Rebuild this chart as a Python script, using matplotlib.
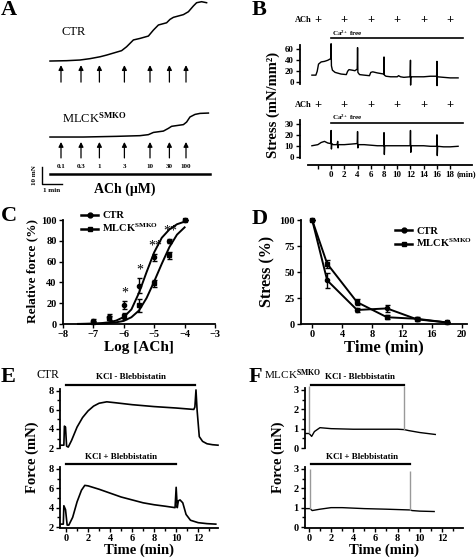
import numpy as np
import matplotlib
matplotlib.use('Agg')
import matplotlib.pyplot as plt
import matplotlib.transforms as mtransforms
from matplotlib.lines import Line2D

plt.rcParams['font.family'] = ['Liberation Serif', 'DejaVu Serif']
plt.rcParams['font.weight'] = 'bold'
plt.rcParams['mathtext.fontset'] = 'custom'
plt.rcParams['mathtext.rm'] = 'Liberation Serif'
plt.rcParams['mathtext.bf'] = 'Liberation Serif:bold'
plt.rcParams['mathtext.it'] = 'Liberation Serif:italic'

# ---------------- data ----------------
# Panel A: cumulative ACh traces (time in min, force in mN above baseline)
a_ctr_t = [0, 0.83, 1.5, 2.0, 2.5, 2.83, 3.58, 3.83, 4.17, 4.5, 4.92, 5.17, 5.42, 5.83,
           6.0, 6.17, 6.67, 6.92, 7.17, 7.33, 7.58, 7.83]
a_ctr_f = [0, 0.2, 0.6, 1.4, 2.5, 3.5, 6.1, 8.4, 12.4, 13.3, 14.7, 18.2, 21.2, 22.5,
           24.5, 25.7, 27.3, 29.0, 32.4, 34.3, 34.9, 34.3]
a_mlck_t = [0, 1.67, 3.33, 4.5, 4.92, 5.17, 5.67, 5.92, 6.08, 6.67, 6.83, 7.0, 7.25, 7.5, 7.92]
a_mlck_f = [0, 0, 0.4, 0.8, 1.4, 2.7, 3.5, 5.1, 6.3, 7.3, 8.8, 11.8, 13.3, 13.9, 14.1]
a_ach_times = [0.55, 1.55, 2.47, 3.72, 5.0, 5.97, 6.8]
a_ach_labels = ['0.1', '0.3', '1', '3', '10', '30', '100']

# Panel B: stress traces (mN/mm^2) vs time (min)
b_up_t = [-2.9, -2.3, -2.1, -1.9, -1.5, -1.0, -0.5, -0.05, 0.0, 0.05, 0.2, 0.6, 1.5, 2.3,
          2.5, 2.7, 3.2, 3.6, 3.95, 4.0, 4.05, 4.3, 5.0, 5.8, 6.0, 6.3, 7.0, 7.95, 8.0,
          8.05, 8.3, 9.0, 10.0, 10.2, 10.5, 11.0, 11.95, 12.0, 12.02, 12.05, 13.0, 14.0,
          15.0, 15.95, 16.0, 16.02, 16.05, 17.0, 18.0, 19.2]
b_up_v = [13, 13, 20, 33, 37, 38, 40, 43, 70, 30, 22, 18, 15, 14,
          20, 23, 22, 21, 24, 63, 18, 14, 13, 12, 18, 19, 17, 15, 46,
          13, 11, 10, 10, 12, 10, 9, 10, 40, -5, 10, 10, 10,
          11, 11, 38, -6, 10, 9, 8, 8]
b_lo_t = [-2.9, -2.0, -1.5, -1.0, -0.5, -0.05, 0.0, 0.05, 0.1, 0.3, 0.9, 1.0, 1.05, 1.1,
          1.5, 2.0, 3.0, 3.95, 4.0, 4.05, 4.1, 5.0, 6.0, 7.0, 7.95, 8.0, 8.05, 8.1, 9.0,
          10.0, 11.0, 11.95, 12.0, 12.05, 12.1, 13.0, 14.0, 15.0, 15.95, 16.0, 16.05,
          16.1, 17.0, 18.0, 19.2]
b_lo_v = [10, 11, 13, 14, 12.5, 12, 24, 7, 12, 11, 11, 14, 8, 11,
          11, 11, 11.5, 12, 23, 8, 11, 11, 10.5, 10, 10, 22, 2, 10, 10,
          10, 10, 10, 24, 4, 10, 10, 10, 9.5, 9.5, 20, 1,
          9.5, 9, 9, 9.5]
b_ach_times = [-2, 2, 6, 10, 14, 18]

# Panel C: concentration-response
c_logach = [-7, -6.5, -6, -5.5, -5, -4.5, -4]
c_ctr = [3, 7, 18.5, 37, 64, 80, 100]
c_ctr_err = [1.5, 3, 4, 7, 3, 2, 0]
c_mlck = [1.5, 6, 7.5, 18, 39, 66, 100]
c_mlck_err = [1, 2, 3, 6, 3, 3, 0]
c_sig = ['', '', '*', '*', '**', '**', '']
c_fit_x = [-7.5, -7.25, -7, -6.75, -6.5, -6.25, -6, -5.75, -5.5, -5.25, -5, -4.75, -4.5, -4.25, -4]
c_fit_ctr = [0.1, 0.2, 0.4, 0.8, 1.6, 3.3, 6.7, 14, 30, 50, 69, 83, 91, 96, 98.5]
c_fit_mlck = [0, 0.1, 0.2, 0.4, 0.8, 1.6, 3, 6.5, 13, 25, 41, 58, 74, 86, 93]

# Panel D: stress decay
d_time = [0, 2, 6, 10, 14, 18]
d_ctr = [100, 42, 13.5, 15, 4.5, 1.5]
d_ctr_err = [0, 7, 2, 3, 1, 0.5]
d_mlck = [100, 58, 21, 6.5, 5, 1.5]
d_mlck_err = [0, 4, 3, 2, 2, 0.5]

# Panel E: CTR force (mN)
e_up_t = [-0.5, -0.2, -0.15, -0.05, 0.05, 0.2, 0.5, 1.0, 1.5, 2.0, 2.5, 3.0, 3.7, 4.5, 6.0,
          8.0, 10.0, 11.6, 11.7, 11.8, 11.9, 12.1, 12.4, 12.8, 13.3, 13.8]
e_up_v = [2.3, 2.3, 4.3, 4.2, 2.2, 2.1, 2.8, 4.2, 5.2, 5.9, 6.4, 6.7, 6.85, 6.75, 6.55,
          6.35, 6.2, 6.05, 6.3, 8.1, 6.0, 3.2, 2.7, 2.45, 2.35, 2.3]
e_lo_t = [-0.5, -0.25, -0.2, -0.05, 0.1, 0.25, 0.6, 1.0, 1.4, 1.7, 2.0, 3.0, 4.0, 5.0, 6.0,
          7.0, 8.0, 9.0, 9.9, 10.0, 10.1, 10.2, 10.35, 10.6, 10.9, 11.3, 12.0, 12.8, 13.6]
e_lo_v = [2.3, 2.3, 4.2, 3.8, 2.2, 2.2, 3.0, 4.6, 5.8, 6.3, 6.25, 5.9, 5.5, 5.1, 4.8,
          4.5, 4.3, 4.15, 4.0, 6.1, 4.0, 4.7, 4.8, 4.5, 3.3, 2.7, 2.45, 2.35, 2.3]
e_up_bar = [0, 11.75]
e_lo_bar = [0, 10]

# Panel F: MLCK-SMKO force (mN)
f_up_t = [-0.35, 0.0, 0.1, 0.25, 0.5, 1.0, 2.0, 4.0, 6.0, 8.0, 8.6, 9.0, 10.0, 11.4]
f_up_v = [0.75, 0.75, 0.7, 0.6, 0.85, 1.05, 1.0, 0.97, 0.97, 0.97, 0.95, 0.9, 0.8, 0.7]
f_up_spike_t = [0.05, 8.6]
f_up_spike_base = [0.75, 0.95]
f_up_spike_top = [3.2, 3.2]
f_lo_t = [-0.35, 0.1, 0.3, 1.0, 2.0, 3.0, 5.0, 7.0, 9.15, 9.3, 10.0, 11.3]
f_lo_v = [0.95, 0.95, 0.85, 0.92, 1.0, 1.0, 0.95, 0.92, 0.88, 0.85, 0.82, 0.8]
f_lo_spike_t = [0.1, 9.15]
f_lo_spike_base = [0.95, 0.88]
f_lo_spike_top = [3.0, 2.9]
f_up_bar = [0.2, 8.6]
f_lo_bar = [0.2, 9.1]

# ---------------- layout helpers ----------------
W, H = 477, 559
fig = plt.figure(figsize=(W / 100, H / 100), dpi=100)


def fx(px):
    return px / W


def fy(py):
    return 1 - py / H


def axpx(x0, y0, x1, y1):
    return fig.add_axes([x0 / W, 1 - y1 / H, (x1 - x0) / W, (y1 - y0) / H])


def style(ax, left=True, bottom=True, lw=1.3, fs=7.5):
    for s in ['top', 'right']:
        ax.spines[s].set_visible(False)
    ax.spines['left'].set_visible(left)
    ax.spines['bottom'].set_visible(bottom)
    for s in ['left', 'bottom']:
        ax.spines[s].set_linewidth(lw)
    ax.tick_params(which='both', direction='out', width=1, labelsize=fs, pad=1.5)
    ax.tick_params(which='major', length=3)
    ax.tick_params(which='minor', length=2)
    if not bottom:
        ax.tick_params(axis='x', which='both', bottom=False, labelbottom=False)
    if not left:
        ax.tick_params(axis='y', which='both', left=False, labelleft=False)
    ax.patch.set_alpha(0)


def xfig(ax):
    return mtransforms.blended_transform_factory(ax.transData, fig.transFigure)


def panel_letter(x, y, s):
    fig.text(fx(x), fy(y), s, fontsize=16, fontweight='bold', ha='left', va='center')


# ---------------- Panel A ----------------
axA = axpx(0, 0, 240, 195)
axA.axis('off')
axA.set_xlim(-2.5, 9.5)
axA.set_ylim(-78.8, 35.9)
MLCK_OFFSET = -44.7
axA.plot(a_ctr_t, a_ctr_f, color='k', lw=1.1)
axA.plot(a_mlck_t, np.array(a_mlck_f) + MLCK_OFFSET, color='k', lw=1.1)
for t, lab in zip(a_ach_times, a_ach_labels):
    for y0, y1 in [(-12.4, -2.4), (-57.0, -47.6)]:
        axA.annotate('', xy=(t, y1), xytext=(t, y0),
                     arrowprops=dict(arrowstyle='-|>', lw=0.9, color='k', mutation_scale=7,
                                     shrinkA=0, shrinkB=0))
    axA.text(t, -61.8, lab, fontsize=5, fontweight='bold', ha='center', va='center')
axA.plot([0, 8.0], [-66.5, -66.5], color='k', lw=1.8)
axA.plot([-0.4, -0.4, 0.6], [-62.4, -72.4, -72.4], color='k', lw=1.0)
axA.text(-0.78, -67.4, '10 mN', fontsize=5, fontweight='bold', rotation=90, ha='center', va='center')
axA.text(0.1, -76.0, '1 min', fontsize=5, fontweight='bold', ha='center', va='center')
axA.text(3.75, -75.3, 'ACh (μM)', fontsize=10, fontweight='bold', ha='center', va='center')
axA.text(0.6, 17, 'CTR', fontsize=9, fontweight='normal', ha='left', va='center')
axA.text(0.6, -33.5, r'MLCK$^{\mathrm{SMKO}}$', fontsize=9, fontweight='normal', ha='left', va='center')
panel_letter(1, 10, 'A')

# ---------------- Panel B ----------------
BX = (-4.7, 21.3)
axBu = axpx(300, 41, 472, 87.8)
style(axBu, bottom=False, fs=6.5)
axBu.set_xlim(*BX)
axBu.set_ylim(-10, 75)
axBu.set_yticks([0, 20, 40, 60])
axBu.spines['left'].set_bounds(-3, 68)
axBu.plot(b_up_t, b_up_v, color='k', lw=1.0)

axBl = axpx(300, 118.5, 472, 161)
style(axBl, bottom=False, fs=6.5)
axBl.set_xlim(*BX)
axBl.set_ylim(-4, 35)
axBl.set_yticks([0, 10, 20, 30])
axBl.spines['left'].set_bounds(-1, 34)
axBl.plot(b_lo_t, b_lo_v, color='k', lw=1.0)

axBt = axpx(300, 160, 472, 165)
style(axBt, left=False, fs=6.5)
axBt.set_xlim(*BX)
axBt.set_ylim(0, 1)
axBt.spines['bottom'].set_bounds(-3.5, 21.3)
axBt.set_xticks(list(range(-2, 19, 2)))
axBt.set_xticklabels([''] + [str(v) for v in range(0, 19, 2)])
fig.text(fx(476.5), fy(174), '(min)', fontsize=6, fontweight='bold', ha='right', va='center')

for ax, ya, yca, ycl in [(axBu, 20, 33, 37.5), (axBl, 105, 117.5, 122.7)]:
    tr = xfig(ax)
    fig.text(fx(312), fy(ya), 'ACh', fontsize=6, fontweight='bold', ha='right', va='center')
    for t in b_ach_times:
        ax.text(t, fy(ya), '+', transform=tr, fontsize=9, fontweight='bold', ha='center', va='center')
    ax.plot([0, 19.9], [fy(ycl), fy(ycl)], transform=tr, color='k', lw=1.2, clip_on=False)
    ax.text(0.2, fy(yca), r'Ca$^{2+}$ free', transform=tr, fontsize=5, fontweight='bold',
            ha='left', va='center')
fig.text(fx(273), fy(105), 'Stress (mN/mm²)', fontsize=10.5, fontweight='bold',
         rotation=90, ha='center', va='center')
panel_letter(252, 10, 'B')

# ---------------- Panel C ----------------
axC = axpx(63, 218, 215, 324)
style(axC)
axC.set_xlim(-8, -3)
axC.set_ylim(0, 102)
axC.spines['left'].set_bounds(0, 100)
axC.set_xticks(range(-8, -2))
axC.set_yticks(range(0, 101, 20))
axC.plot(c_fit_x, c_fit_ctr, color='k', lw=1.4, clip_on=False)
axC.plot(c_fit_x, c_fit_mlck, color='k', lw=1.4, clip_on=False)
axC.errorbar(c_logach, c_ctr, yerr=c_ctr_err, fmt='o', ms=3, color='k', capsize=1.8,
             elinewidth=1, capthick=1, clip_on=False)
axC.errorbar(c_logach, c_mlck, yerr=c_mlck_err, fmt='s', ms=3, color='k', capsize=1.8,
             elinewidth=1, capthick=1, clip_on=False)
for x, y, e, s in zip(c_logach, c_ctr, c_ctr_err, c_sig):
    if s:
        axC.text(x + 0.03, y + e + 1.5, s, fontsize=10, fontweight='normal', ha='center', va='bottom')
axC.set_xlabel('Log [ACh]', fontsize=11, fontweight='bold', labelpad=1)
axC.set_ylabel('Relative force (%)', fontsize=9.5, fontweight='bold', labelpad=2)
hC = [Line2D([], [], color='k', marker='o', ms=3.5, lw=1.8),
      Line2D([], [], color='k', marker='s', ms=3.5, lw=1.8)]
fig.legend(hC, ['CTR', r'MLCK$^{\mathbf{SMKO}}$'], loc='upper left',
           bbox_to_anchor=(fx(76), fy(206)), frameon=False, fontsize=7.5,
           handlelength=1.6, handletextpad=0.4, labelspacing=0.15, borderpad=0)
panel_letter(1, 216, 'C')

# ---------------- Panel D ----------------
axD = axpx(301, 218, 467, 324)
style(axD)
axD.set_xlim(-1.5, 20.7)
axD.set_ylim(0, 102)
axD.spines['left'].set_bounds(0, 100)
axD.set_xticks(range(0, 21, 4))
axD.set_yticks([0, 25, 50, 75, 100])
axD.errorbar(d_time, d_ctr, yerr=d_ctr_err, fmt='-o', ms=3, color='k', lw=1.4, capsize=1.8,
             elinewidth=1, capthick=1, clip_on=False)
axD.errorbar(d_time, d_mlck, yerr=d_mlck_err, fmt='-s', ms=3, color='k', lw=1.4, capsize=1.8,
             elinewidth=1, capthick=1, clip_on=False)
axD.set_xlabel('Time (min)', fontsize=12, fontweight='bold', labelpad=0)
axD.set_ylabel('Stress (%)', fontsize=11.5, fontweight='bold', labelpad=3)
fig.legend(hC, ['CTR', r'MLCK$^{\mathbf{SMKO}}$'], loc='upper left',
           bbox_to_anchor=(fx(390), fy(221)), frameon=False, fontsize=7.5,
           handlelength=1.6, handletextpad=0.4, labelspacing=0.15, borderpad=0)
panel_letter(252, 219, 'D')

# ---------------- Panel E ----------------
EX = (-0.55, 13.8)
axEu = axpx(60, 388, 218, 449)
style(axEu, bottom=False)
axEu.set_xlim(*EX)
axEu.set_ylim(1.9, 8.3)
axEu.set_yticks([2, 4, 6, 8])
axEu.set_yticks([3, 5, 7], minor=True)
axEu.spines['left'].set_bounds(2, 8.2)
axEu.plot(e_up_t, e_up_v, color='k', lw=1.2, clip_on=False)

axEl = axpx(60, 466, 218, 528)
style(axEl)
axEl.set_xlim(*EX)
axEl.set_ylim(1.9, 8.3)
axEl.set_yticks([2, 4, 6, 8])
axEl.set_yticks([3, 5, 7], minor=True)
axEl.set_xticks(range(0, 13, 2))
axEl.set_xticks(range(1, 14, 2), minor=True)
axEl.spines['left'].set_bounds(2, 8.2)
axEl.plot(e_lo_t, e_lo_v, color='k', lw=1.2, clip_on=False)
axEl.set_xlabel('Time (min)', fontsize=10.5, fontweight='bold', labelpad=0)

for ax, bar, ybar, ytxt, txt in [(axEu, e_up_bar, 385, 377, 'KCl - Blebbistatin'),
                                  (axEl, e_lo_bar, 464, 457, 'KCl + Blebbistatin')]:
    tr = xfig(ax)
    ax.plot(bar, [fy(ybar)] * 2, transform=tr, color='k', lw=1.6, clip_on=False)
    ax.text((bar[0] + bar[1]) / 2, fy(ytxt), txt, transform=tr, fontsize=6.5,
            fontweight='bold', ha='center', va='center')
fig.text(fx(32), fy(457), 'Force (mN)', fontsize=10.5, fontweight='bold', rotation=90,
         ha='center', va='center')
fig.text(fx(48), fy(375), 'CTR', fontsize=8.5, fontweight='normal', ha='center', va='center')
panel_letter(1, 377, 'E')

# ---------------- Panel F ----------------
FX = (-0.35, 13.9)
axFu = axpx(305, 386, 463, 449)
style(axFu, bottom=False)
axFu.set_xlim(*FX)
axFu.set_ylim(-0.05, 3.2)
axFu.set_yticks([0, 1, 2, 3])
axFu.set_yticks([0.5, 1.5, 2.5], minor=True)
axFu.spines['left'].set_bounds(0, 3.1)
axFu.plot(f_up_t, f_up_v, color='k', lw=1.0)
axFu.vlines(f_up_spike_t, f_up_spike_base, f_up_spike_top, color='0.6', lw=1.0, clip_on=False)

axFl = axpx(305, 465, 463, 528)
style(axFl)
axFl.set_xlim(*FX)
axFl.set_ylim(-0.05, 3.2)
axFl.set_yticks([0, 1, 2, 3])
axFl.set_yticks([0.5, 1.5, 2.5], minor=True)
axFl.spines['left'].set_bounds(0, 3.1)
axFl.set_xticks(range(0, 13, 2))
axFl.set_xticks(range(1, 14, 2), minor=True)
axFl.plot(f_lo_t, f_lo_v, color='k', lw=1.0)
axFl.vlines(f_lo_spike_t, f_lo_spike_base, f_lo_spike_top, color='0.6', lw=1.0, clip_on=False)
axFl.set_xlabel('Time (min)', fontsize=10.5, fontweight='bold', labelpad=0)

for ax, bar, ybar, ytxt, txt, xc in [(axFu, f_up_bar, 385, 377, 'KCl - Blebbistatin', 360),
                                      (axFl, f_lo_bar, 464, 457, 'KCl + Blebbistatin', 362)]:
    tr = xfig(ax)
    ax.plot(bar, [fy(ybar)] * 2, transform=tr, color='k', lw=1.6, clip_on=False)
    fig.text(fx(xc), fy(ytxt), txt, fontsize=6.5, fontweight='bold', ha='center', va='center')
fig.text(fx(278), fy(457), 'Force (mN)', fontsize=10.5, fontweight='bold', rotation=90,
         ha='center', va='center')
fig.text(fx(264), fy(375), r'MLCK$^{\mathrm{SMKO}}$', fontsize=8, fontweight='normal',
         ha='left', va='center')
panel_letter(249, 377, 'F')

fig.savefig('out.png', dpi=100)
